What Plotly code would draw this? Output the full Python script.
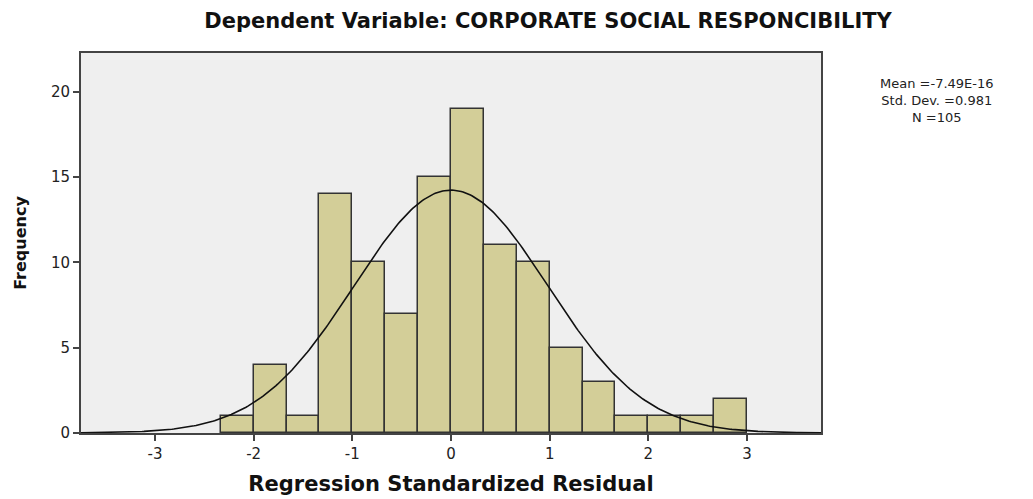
import numpy as np
import plotly.graph_objects as go

# Histogram data (bins of width 1/3 from -2.333 to 3.0)
bin_left_edges = [-7/3, -2, -5/3, -4/3, -1, -2/3, -1/3, 0, 1/3, 2/3, 1, 4/3, 5/3, 2, 7/3, 8/3]
counts = [1, 4, 1, 14, 10, 7, 15, 19, 11, 10, 5, 3, 1, 1, 1, 2]
bin_width = 1/3

# Reported statistics
mean_val = -7.49e-16
sd_val = 0.981
n_val = 105
stat_lines = ["Mean =-7.49E-16", f"Std. Dev. ={sd_val}", f"N ={n_val}"]

x_ticks = [-3, -2, -1, 0, 1, 2, 3]
x_tick_text = ["-3", "-2", "-1", "0", "1", "2", "3"]
y_ticks = [0, 5, 10, 15, 20]

centers = [e + bin_width / 2 for e in bin_left_edges]

# Fitted normal curve from the reported mean / sd / N
xc = np.linspace(-3.75, 3.75, 400)
yc = n_val * bin_width * np.exp(-0.5 * ((xc - mean_val) / sd_val) ** 2) / (sd_val * np.sqrt(2 * np.pi))

fig = go.Figure()
fig.add_trace(go.Bar(
    x=centers, y=counts, width=bin_width,
    marker=dict(color="#D3CE98", line=dict(color="#333333", width=1.5)),
    showlegend=False, hoverinfo="x+y",
))
fig.add_trace(go.Scatter(
    x=xc, y=yc, mode="lines",
    line=dict(color="#111111", width=1.6),
    showlegend=False, hoverinfo="skip",
))

fig.update_layout(
    width=1033, height=499,
    margin=dict(l=73, r=220, t=45, b=74),
    paper_bgcolor="white",
    plot_bgcolor="#EFEFEF",
    bargap=0,
    title=dict(
        text="<b>Dependent Variable: CORPORATE SOCIAL RESPONCIBILITY</b>",
        x=(548 - 8) / 1033, xanchor="center", xref="container",
        y=1 - 12.5/499, yanchor="middle", yref="container",
        font=dict(family="DejaVu Sans", size=21, color="#111111"),
    ),
    font=dict(family="DejaVu Sans", color="#222222"),
    xaxis=dict(
        range=[-3.75, 3.75], tickvals=x_ticks, ticktext=x_tick_text,
        ticks="outside", ticklen=6, tickwidth=1.5, tickcolor="#444444",
        showline=True, linecolor="#444444", linewidth=2, mirror=True,
        showgrid=False, zeroline=False,
        tickfont=dict(size=15, color="#222222"),
        title=dict(text="<b>Regression Standardized Residual</b>",
                   font=dict(family="DejaVu Sans", size=21, color="#111111"), standoff=14),
    ),
    yaxis=dict(
        range=[0, 22.27], tickvals=y_ticks,
        ticks="outside", ticklen=6, tickwidth=1.5, tickcolor="#444444",
        showline=True, linecolor="#444444", linewidth=2, mirror=True,
        showgrid=False, zeroline=False,
        tickfont=dict(size=15, color="#222222"),
        title=dict(text="<b>Frequency</b>",
                   font=dict(family="DejaVu Sans", size=16, color="#111111"), standoff=20),
    ),
    annotations=[dict(
        text="<br>".join(stat_lines),
        xref="paper", yref="paper", x=(937 - 81) / 740, y=(433 - 101) / 380,
        xanchor="center", yanchor="middle", showarrow=False, align="center",
        font=dict(family="DejaVu Sans", size=13, color="#222222"),
    )],
)

fig.write_html("out.html")
